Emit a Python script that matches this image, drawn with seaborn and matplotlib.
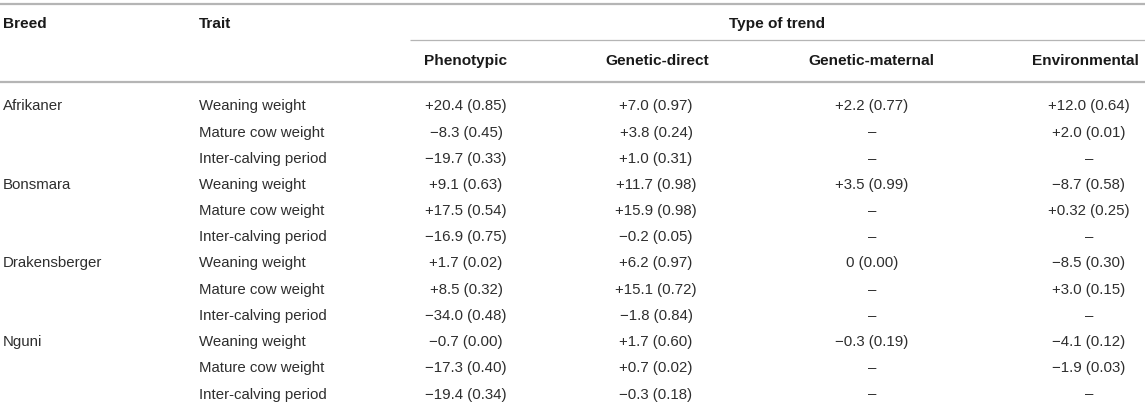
import matplotlib
matplotlib.use("Agg")
import matplotlib.pyplot as plt
import pandas as pd
import seaborn as sns

breeds = ["Afrikaner", "Bonsmara", "Drakensberger", "Nguni"]
traits = ["Weaning weight", "Mature cow weight", "Inter-calving period"]
trend_types = ["Phenotypic", "Genetic-direct", "Genetic-maternal", "Environmental"]

# trend (R²) per breed x trait, in reading order
phenotypic = ["+20.4 (0.85)", "−8.3 (0.45)", "−19.7 (0.33)",
              "+9.1 (0.63)", "+17.5 (0.54)", "−16.9 (0.75)",
              "+1.7 (0.02)", "+8.5 (0.32)", "−34.0 (0.48)",
              "−0.7 (0.00)", "−17.3 (0.40)", "−19.4 (0.34)"]
genetic_direct = ["+7.0 (0.97)", "+3.8 (0.24)", "+1.0 (0.31)",
                  "+11.7 (0.98)", "+15.9 (0.98)", "−0.2 (0.05)",
                  "+6.2 (0.97)", "+15.1 (0.72)", "−1.8 (0.84)",
                  "+1.7 (0.60)", "+0.7 (0.02)", "−0.3 (0.18)"]
genetic_maternal = ["+2.2 (0.77)", "–", "–",
                    "+3.5 (0.99)", "–", "–",
                    "0 (0.00)", "–", "–",
                    "−0.3 (0.19)", "–", "–"]
environmental = ["+12.0 (0.64)", "+2.0 (0.01)", "–",
                 "−8.7 (0.58)", "+0.32 (0.25)", "–",
                 "−8.5 (0.30)", "+3.0 (0.15)", "–",
                 "−4.1 (0.12)", "−1.9 (0.03)", "–"]

df = pd.DataFrame({
    "breed": [b for b in breeds for _ in traits],
    "trait": traits * len(breeds),
    "Phenotypic": phenotypic,
    "Genetic-direct": genetic_direct,
    "Genetic-maternal": genetic_maternal,
    "Environmental": environmental,
})

sns.set_theme(style="white")
plt.rcParams["font.family"] = ["Liberation Sans", "DejaVu Sans"]

W, H = 1145, 407
fig = plt.figure(figsize=(W / 100, H / 100), dpi=100)
ax = fig.add_axes([0, 0, 1, 1])
ax.set_xlim(0, W)
ax.set_ylim(H, 0)
ax.axis("off")

FS = 10.8
FS_HEAD = 11.1
LINE = "#b5b5b5"
HEAD = "#1a1a1a"
BODY = "#2e2e2e"
BASE = 5.3  # baseline offset from row centre

# rules
ax.hlines(4, 0, W, color=LINE, lw=1.6)
ax.hlines(40, 410, W, color=LINE, lw=0.9)
ax.hlines(82, 0, W, color=LINE, lw=1.6)

# header
ax.text(3, 23 + BASE, "Breed", fontsize=FS_HEAD, weight="bold", color=HEAD, va="baseline")
ax.text(199, 23 + BASE, "Trait", fontsize=FS_HEAD, weight="bold", color=HEAD, va="baseline")
ax.text(777, 23 + BASE, "Type of trend", fontsize=FS_HEAD, weight="bold", color=HEAD,
        va="baseline", ha="center")

head_x = [466, 657, 871, 1139]
head_ha = ["center", "center", "center", "right"]
for name, x, ha in zip(trend_types, head_x, head_ha):
    ax.text(x, 60 + BASE, name, fontsize=FS_HEAD, weight="bold", color=HEAD,
            va="baseline", ha=ha)

# body
val_x = [466, 656, 872, 1089]
row_y0, row_h = 105, 26.2
for i, row in df.iterrows():
    y = row_y0 + i * row_h + BASE
    if i % len(traits) == 0:
        ax.text(3, y, row["breed"], fontsize=FS, color=BODY, va="baseline")
    ax.text(199, y, row["trait"], fontsize=FS, color=BODY, va="baseline")
    for name, x in zip(trend_types, val_x):
        ax.text(x, y, row[name], fontsize=FS, color=BODY, va="baseline", ha="center")

fig.savefig("out.png", dpi=100, facecolor="white")
plt.close(fig)
